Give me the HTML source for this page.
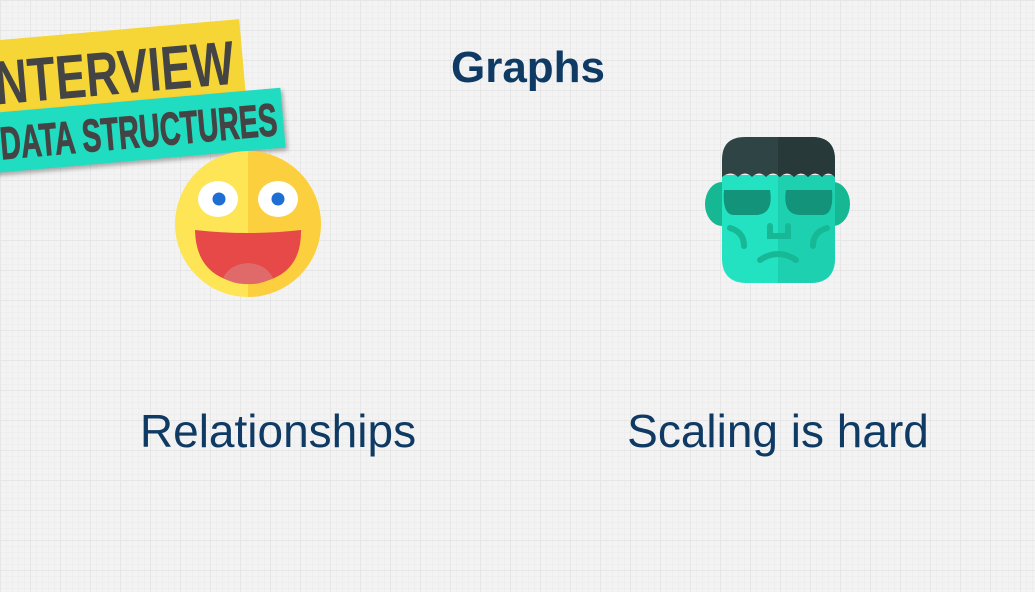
<!DOCTYPE html>
<html><head><meta charset="utf-8"><style>
html,body{margin:0;padding:0}
body{width:1035px;height:592px;overflow:hidden;position:relative;background-color:#f3f3f3;
background-image:linear-gradient(#e6e6e6 1px,transparent 1px),linear-gradient(90deg,#e6e6e6 1px,transparent 1px),linear-gradient(#eeeeee 1px,transparent 1px),linear-gradient(90deg,#eeeeee 1px,transparent 1px);
background-size:30px 30px,30px 30px,6px 6px,6px 6px;font-family:"Liberation Sans",sans-serif}
.t{position:absolute;color:#0f3a63;text-align:center}
</style></head><body>
<div class="t" style="left:0;width:1056px;top:43px;font-size:44px;font-weight:bold">Graphs</div>
<div class="t" style="left:128px;width:300px;top:404px;font-size:46px">Relationships</div>
<div class="t" style="left:608px;width:340px;top:404px;font-size:46px">Scaling is hard</div>
<svg width="1035" height="592" style="position:absolute;left:0;top:0">
<g transform="rotate(-5 140 90)">
<rect x="-20" y="28" width="265" height="78" fill="#f6d537"/>
<text x="-4" y="92" font-family="Liberation Sans Narrow,Liberation Sans,sans-serif" font-weight="bold" font-size="62" fill="#444" textLength="240" lengthAdjust="spacingAndGlyphs">NTERVIEW</text>
<rect x="-20" y="100" width="300" height="60" fill="#20dcc0" style="filter:drop-shadow(2px 3px 2px rgba(0,0,0,.3))"/>
<text x="-4" y="147" font-family="Liberation Sans Narrow,Liberation Sans,sans-serif" font-weight="bold" font-size="46" fill="#444" stroke="#444" stroke-width="1" textLength="278" lengthAdjust="spacingAndGlyphs">DATA STRUCTURES</text>
</g>
<circle cx="248" cy="224" r="73" fill="#fde555"/>
<path d="M248 151 A73 73 0 0 1 248 297Z" fill="#fbcf3e"/>
<ellipse cx="218" cy="199" rx="20" ry="18" fill="#fff"/>
<ellipse cx="278" cy="199" rx="20" ry="18" fill="#fff"/>
<circle cx="219" cy="199" r="6.5" fill="#1d6fd4"/>
<circle cx="278" cy="199" r="6.5" fill="#1d6fd4"/>
<path d="M195 230 Q248 236 301 230 Q302 280 248 284 Q196 280 195 230Z" fill="#e74848"/>
<path d="M223 278 Q230 264 248 263 Q266 264 273 278 Q260 285 248 284 Q236 285 223 278Z" fill="#e06a6a"/>
<ellipse cx="722" cy="204" rx="17" ry="22" fill="#16b893"/>
<ellipse cx="833" cy="204" rx="17" ry="22" fill="#16b893"/>
<path d="M722 175 L835 175 L835 258 Q835 283 810 283 L747 283 Q722 283 722 258Z" fill="#22e2c2"/>
<path d="M778 175 L835 175 L835 258 Q835 283 810 283 L778 283Z" fill="#1dd1b0"/>
<path d="M722 177 L722 160 Q722 137 745 137 L812 137 Q835 137 835 160 L835 177 Q828 170 822 177 Q815 170 808 177 Q801 170 794 177 Q787 170 780 177 Q773 170 766 177 Q759 170 752 177 Q745 170 738 177 Q731 170 722 177Z" fill="#2f4545"/>
<path d="M778 137 L812 137 Q835 137 835 160 L835 177 Q828 170 822 177 Q815 170 808 177 Q801 170 794 177 Q787 170 780 177 L778 176Z" fill="#273939"/>
<path d="M724 190 L770 190 Q774 215 755 215 L734 215 Q722 215 724 190Z" fill="#13937a"/>
<path d="M786 190 L832 190 Q834 215 822 215 L801 215 Q782 215 786 190Z" fill="#13937a"/>
<g fill="none" stroke="#17b896" stroke-width="6" stroke-linecap="round">
<path d="M730 228 Q744 232 744 246"/><path d="M827 228 Q813 232 813 246"/>
<path d="M760 260 Q778 248 796 260"/>
<path d="M770 226 L770 236 L788 236 L788 226"/>
</g>
</svg>
</body></html>
